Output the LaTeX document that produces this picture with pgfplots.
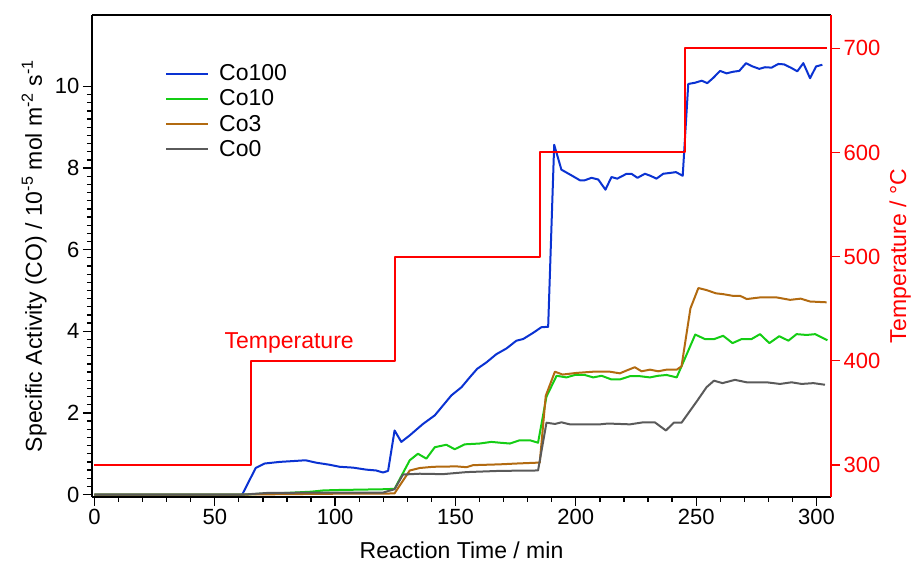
\documentclass[border=0pt]{standalone}
\usepackage{fontspec}
\setmainfont{Liberation Sans}
\usepackage{pgfplots}
\pgfplotsset{compat=1.18}
\definecolor{cblue}{RGB}{10,50,210}
\definecolor{cgreen}{RGB}{20,205,20}
\definecolor{cbrown}{RGB}{178,106,16}
\definecolor{cgray}{RGB}{90,90,90}
\newcommand{\tfont}{\fontsize{22}{26}\selectfont}
\newcommand{\lfont}{\fontsize{23}{27}\selectfont}
\begin{document}
\begin{tikzpicture}[x=1pt,y=1pt]
\path[use as bounding box] (0,0) rectangle (913,561);
\begin{axis}[
  at={(92pt,64pt)}, anchor=south west,
  scale only axis, width=739pt, height=482pt,
  xmin=-1, xmax=306, ymin=-0.06, ymax=11.75,
  axis x line*=box, axis y line*=left,
  xtick pos=bottom, ytick pos=left,
  axis line style={line width=1.6pt, black},
  tick align=outside,
  major tick length=9pt, minor tick length=5pt,
  every tick/.style={black, line width=1.3pt},
  xtick={0,50,...,300}, minor x tick num=4,
  ytick={0,2,...,10}, minor y tick num=9,
  /pgf/number format/assume math mode=true,
  tick label style={font=\tfont},
  xlabel={Reaction Time / min},
  ylabel={Specific Activity (CO) / 10\textsuperscript{-5} mol m\textsuperscript{-2} s\textsuperscript{-1}},
  label style={font=\lfont},
  xlabel style={at={(axis description cs:0.5,-0.1266)}, anchor=base},
  ylabel style={at={(axis description cs:-0.0677,0.5)}, anchor=base, rotate=0},
  legend style={at={(axis description cs:0.0988,0.897)}, anchor=north west,
    draw=none, fill=none, inner sep=0pt, row sep=7.5pt, column sep=10pt, font=\lfont,
    nodes={inner sep=0pt}},
  legend cell align=left,
  legend image code/.code={\draw[#1, line width=2pt] (0pt,0pt) -- (42pt,0pt);},
  every axis plot/.append style={line width=2pt, line join=round},
]
\addplot[cblue] table {
0 0
61.4 0
67 0.65
70.7 0.76
77 0.80
82.5 0.82
87.7 0.84
92.2 0.78
97.7 0.73
101.9 0.68
107.4 0.66
113 0.61
117 0.59
119.9 0.54
122 0.58
124.7 1.57
127.5 1.29
131 1.45
136.5 1.73
141.4 1.94
148.3 2.43
152.5 2.63
155.9 2.87
159 3.08
162.9 3.24
167 3.44
171.2 3.58
175.3 3.77
178.1 3.81
182.2 3.96
185.7 4.10
188.5 4.11
191 8.57
194 7.96
198.2 7.82
201.7 7.70
203.7 7.70
206.5 7.76
209.3 7.72
212.3 7.47
214.8 7.78
217.2 7.74
221.1 7.86
223.1 7.86
225.6 7.76
228.7 7.86
231 7.81
233.5 7.74
236.3 7.86
239.1 7.88
241.6 7.90
244.4 7.81
246.7 10.06
249.5 10.09
252.3 10.14
254.6 10.08
257.1 10.21
259.9 10.38
262.6 10.32
265.4 10.36
267.9 10.38
270.7 10.57
273.4 10.49
276.2 10.43
278.6 10.47
281.3 10.46
284.1 10.55
286.5 10.54
289.3 10.46
292 10.37
294.5 10.57
297.3 10.20
299.8 10.49
302.4 10.53
};
\addlegendentry{Co100}
\addplot[cgreen] table {
0 0
62 0
70 0.02
80 0.04
90 0.07
95 0.10
100 0.11
110 0.12
120 0.13
124.7 0.14
131 0.84
134.4 1.00
137.9 0.88
141.4 1.16
146.2 1.22
149.7 1.11
153.8 1.23
160 1.25
164.9 1.29
168.5 1.27
172.6 1.25
176.7 1.33
180.9 1.33
184.3 1.27
187.8 2.40
192 2.91
196.1 2.87
199.6 2.93
203.7 2.93
207.2 2.87
210.7 2.91
214.8 2.82
218.3 2.82
222.5 2.90
226.6 2.90
230.8 2.87
234.2 2.91
237.7 2.93
241.9 2.87
249.6 3.92
253.6 3.81
257.5 3.81
261.2 3.89
265.1 3.71
268.9 3.81
273 3.81
276.5 3.93
280.4 3.71
284.5 3.88
288.3 3.77
291.7 3.93
295.9 3.91
299.4 3.93
304.5 3.78
};
\addlegendentry{Co10}
\addplot[cbrown] table {
0 0
62 0
80 0.01
100 0.02
120 0.02
124.7 0.03
131 0.59
135.1 0.65
140.7 0.68
150.4 0.69
154.6 0.67
157.3 0.72
168.4 0.74
175.3 0.76
183.6 0.78
185 0.78
187.5 2.42
191.3 3.01
194.5 2.94
200.3 2.98
207.2 3.01
214.1 3.01
218.3 2.97
221.1 3.04
224.5 3.12
227.3 3.02
230.8 3.06
234.2 3.02
237.7 3.06
241.9 3.06
243.9 3.14
247.6 4.56
250.9 5.06
254.3 5.01
258.2 4.93
261.2 4.91
265.1 4.87
268.2 4.87
271 4.79
276.5 4.83
283.4 4.83
289 4.77
293.4 4.80
297.3 4.73
304.2 4.71
};
\addlegendentry{Co3}
\addplot[cgray] table {
0 0
62 0
72 0.04
100 0.05
120 0.05
124.7 0.13
128.2 0.49
135.1 0.51
144.8 0.50
154.6 0.55
168.4 0.58
184.3 0.59
187.8 1.76
191.3 1.73
194 1.77
197.5 1.72
210 1.72
213.4 1.74
222.5 1.72
228 1.77
232.8 1.77
237.4 1.57
240.7 1.76
243.9 1.76
250.2 2.28
254.3 2.63
257.4 2.79
260.9 2.73
266.1 2.81
271 2.75
279.3 2.75
284.8 2.71
289.6 2.75
293.8 2.71
298.7 2.73
303.5 2.69
};
\addlegendentry{Co0}
\node[anchor=base west, red, font=\lfont, inner sep=0pt] at (axis cs:54,3.59) {Temperature};
\end{axis}
\begin{axis}[
  at={(92pt,64pt)}, anchor=south west,
  scale only axis, width=739pt, height=482pt,
  xmin=-1, xmax=306, ymin=269.3, ymax=732,
  axis y line*=right, axis x line=none,
  y axis line style={line width=1.6pt, red},
  tick align=outside,
  major tick length=9pt,
  ytick={300,400,...,700}, minor y tick num=0,
  ytick style={red, line width=1.3pt},
  /pgf/number format/assume math mode=true,
  yticklabel style={font=\tfont, red},
  ylabel={Temperature / °C},
  ylabel style={font=\lfont, red, at={(axis description cs:1.1015,0.5)}, anchor=base, rotate=0},
]
\addplot[red, line width=2pt, line join=round] table {
0 300
65 300
65 400
125 400
125 500
185 500
185 600
245.5 600
245.5 700
304.5 700
};
\end{axis}
\end{tikzpicture}
\end{document}
